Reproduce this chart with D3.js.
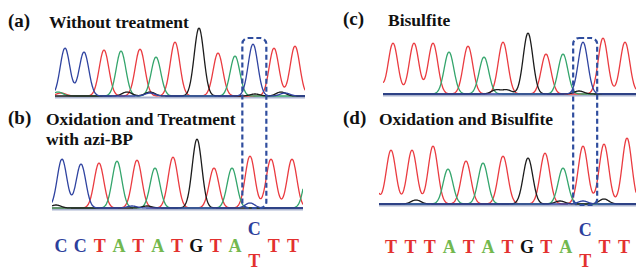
<!DOCTYPE html>
<html>
<head>
<meta charset="utf-8">
<script src="https://cdn.jsdelivr.net/npm/d3@7"></script>
<style>
  body { margin: 0; background: #fff; }
  svg { display: block; }
</style>
</head>
<body>
<svg width="636" height="271"></svg>
<script>
// base calls for each trace
const seqA = ["C", "C", "T", "A", "T", "A", "T", "G", "T", "A", "C", "T", "T"];
const seqB = ["C", "C", "T", "A", "T", "A", "T", "G", "T", "A", "T", "T", "T"];
const seqC = ["T", "T", "T", "A", "T", "A", "T", "G", "T", "A", "C", "T", "T"];
const seqD = ["T", "T", "T", "A", "T", "A", "T", "G", "T", "A", "T", "T", "T"];

// peak positions (scan) and peak heights (signal)
const scanA = [10, 29, 49, 66, 85, 101, 120, 144, 163, 180, 198, 219, 240];
const signalA = [48, 44, 46, 45, 47, 39, 54, 68, 43, 40, 52, 48, 50];
const scanB = [10, 29, 47, 65, 85, 103, 121, 145, 162, 180, 198, 219, 240];
const signalB = [49, 44, 45, 47, 48, 40, 51, 69, 40, 40, 52, 49, 49];
const scanC = [10, 31, 50, 66, 85, 101, 120, 145, 163, 180, 200, 220, 242];
const signalC = [51, 51, 51, 42, 48, 37, 52, 61, 40, 40, 52, 56, 52];
const scanD = [12, 33, 54, 69, 87, 104, 124, 149, 166, 184, 204, 225, 248];
const signalD = [54, 54, 58, 35, 43, 41, 48, 46, 51, 36, 58, 60, 66];

// small background peaks: [base, scan, signal]
const minorA = [["A", 3, 4], ["T", 6, 3], ["G", 72, 4], ["G", 95, 4], ["C", 95, 3], ["G", 200, 2], ["G", 226, 4], ["C", 230, 3]];
const minorB = [["G", 4, 3], ["C", 80, 2], ["G", 95, 2], ["C", 198, 5], ["A", 257, 42]];
const minorC = [["T", -10, 50], ["G", 113, 4], ["G", 124, 4], ["G", 196, 3], ["T", 262, 6]];
const minorD = [["T", -9, 50], ["G", 37, 4], ["G", 181, 3], ["C", 204, 3], ["G", 225, 5]];

const titles = ["Without treatment", "Oxidation and Treatment|with azi-BP", "Bisulfite", "Oxidation and Bisulfite"];
const tags = ["(a)", "(b)", "(c)", "(d)"];

const traceColor = { A: "#34a56c", C: "#2f43a0", G: "#1c1c1c", T: "#ea3b40" };
const letterColor = { A: "#72b84f", C: "#2d3f9c", G: "#111", T: "#e3302f" };
const sigma = 4.8;

const svg = d3.select("svg");

function label(x, y, size, color, str, anchor) {
  return svg.append("text")
    .attr("x", x).attr("y", y)
    .style("font-family", "'Liberation Serif', serif")
    .style("font-weight", "bold")
    .style("font-size", size + "px")
    .attr("fill", color)
    .attr("text-anchor", anchor || "start")
    .text(str);
}

const panels = [
  { seq: seqA, scan: scanA, signal: signalA, minor: minorA, left: 55, right: 305, base: 96 },
  { seq: seqB, scan: scanB, signal: signalB, minor: minorB, left: 52, right: 303, base: 208 },
  { seq: seqC, scan: scanC, signal: signalC, minor: minorC, left: 383, right: 636, base: 94 },
  { seq: seqD, scan: scanD, signal: signalD, minor: minorD, left: 379, right: 636, base: 204 }
];

panels.forEach((p, k) => {
  const w = p.right - p.left;
  const x = d3.scaleLinear().domain([0, w]).range([p.left, p.right]);
  const y = d3.scaleLinear().domain([0, 70]).range([p.base, p.base - 70]);

  const peaks = p.seq.map((b, i) => ({ b, s: p.scan[i], h: p.signal[i] }))
    .concat(p.minor.map(m => ({ b: m[0], s: m[1], h: m[2] })));

  svg.append("clipPath").attr("id", "clip" + k)
    .append("rect").attr("x", p.left).attr("y", p.base - 90).attr("width", w).attr("height", 94);

  const g = svg.append("g").attr("clip-path", `url(#clip${k})`);

  // faint shadow under baseline
  g.append("line")
    .attr("x1", x(0)).attr("x2", x(w))
    .attr("y1", y(0) + 1.5).attr("y2", y(0) + 1.5)
    .attr("stroke", "#aab3cf").attr("stroke-width", 2);

  const scans = d3.range(0, w + 0.5, 0.5);
  const line = d3.line().x(d => x(d[0])).y(d => y(d[1])).curve(d3.curveBasis);

  ["T", "A", "G", "C"].forEach(b => {
    const pk = peaks.filter(q => q.b === b);
    const pts = scans.map(s => [s, d3.sum(pk, q => q.h * Math.exp(-((s - q.s) ** 2) / (2 * sigma * sigma)))]);
    g.append("path")
      .attr("d", line(pts))
      .attr("fill", "none")
      .attr("stroke", traceColor[b])
      .attr("stroke-width", 1.3);
  });

  // titles
  const tagX = k < 2 ? 8 : 343;
  const titleX = [49, 46, 388, 379][k];
  const titleY = [28, 125, 26, 125][k];
  label(tagX, titleY - 1, 19, "#111", tags[k]);
  titles[k].split("|").forEach((t, j) => {
    label(titleX, titleY + j * 20, 17.5, "#111", t);
  });
});

// base-call rows and the dashed box around the changed base
const rows = [
  { top: seqA, bottom: seqB, left: 61, right: 293, base: 252, boxTop: 38, boxBottom: 208 },
  { top: seqC, bottom: seqD, left: 391, right: 624, base: 253, boxTop: 38, boxBottom: 205 }
];

rows.forEach(r => {
  const xi = d3.scaleLinear().domain([0, r.top.length - 1]).range([r.left, r.right]);
  r.top.forEach((b, i) => {
    if (b !== r.bottom[i]) {
      label(xi(i), r.base - 17, 18, letterColor[b], b, "middle");
      label(xi(i), 267, 18, letterColor[r.bottom[i]], r.bottom[i], "middle");
      svg.append("rect")
        .attr("x", xi(i) - 12).attr("y", r.boxTop)
        .attr("width", 24).attr("height", r.boxBottom - r.boxTop)
        .attr("rx", 6)
        .attr("fill", "none").attr("stroke", "#2f4d9e")
        .attr("stroke-width", 2.2).attr("stroke-dasharray", "5,3");
    } else {
      label(xi(i), r.base, 18, letterColor[b], b, "middle");
    }
  });
});
</script>
</body>
</html>
